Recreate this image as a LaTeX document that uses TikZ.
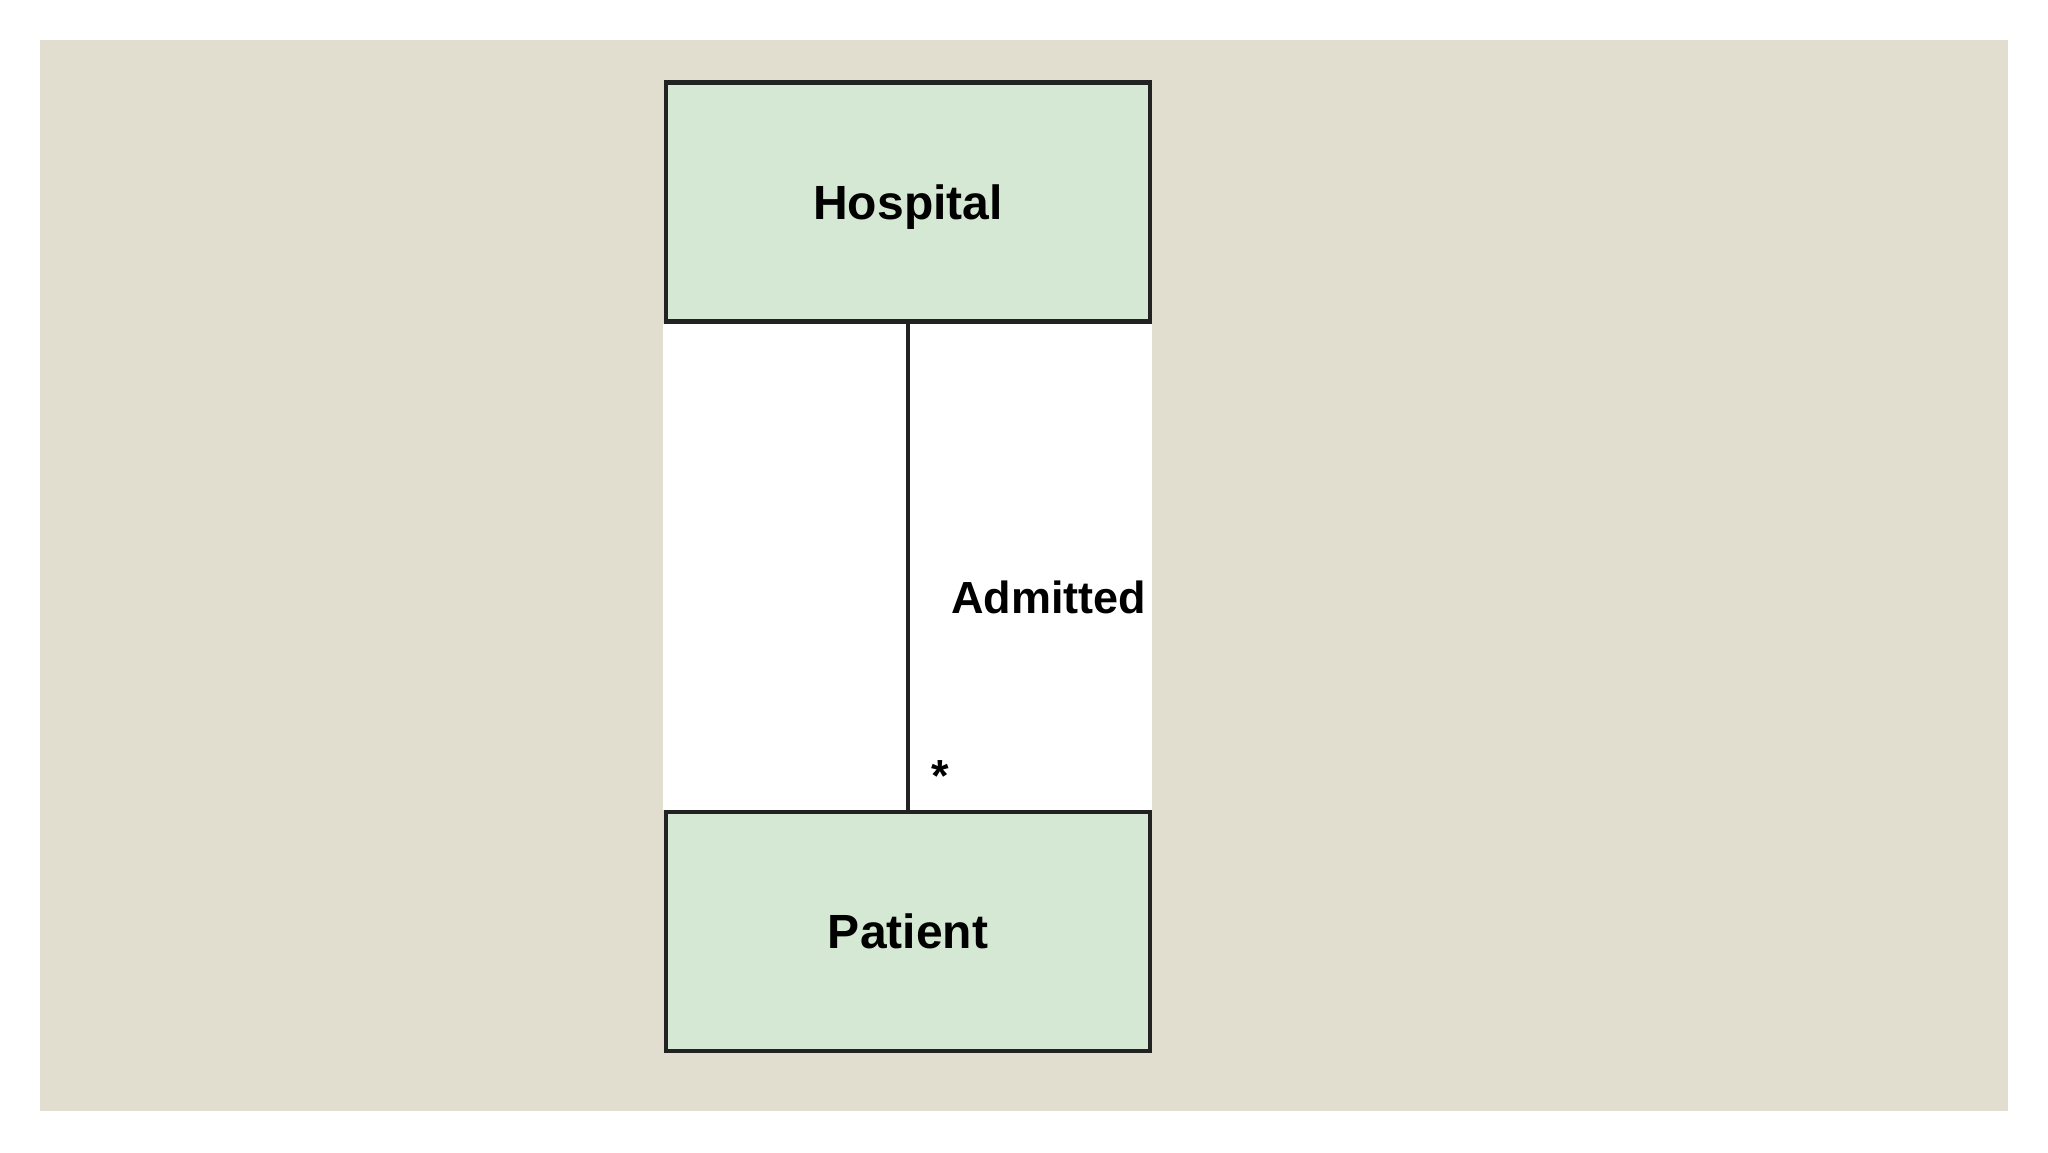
\documentclass[tikz,border=0pt]{standalone}
\usepackage{fontspec}
\setmainfont{Liberation Sans}
\usepackage{xcolor}
\usetikzlibrary{
    arrows.meta,
    positioning
}

\definecolor{canvasbeige}{HTML}{E1DDCF}
\definecolor{classgreen}{HTML}{D5E8D4}
\definecolor{edgedark}{HTML}{222222}

\begin{document}
\begin{tikzpicture}[
    x=0.5pt, y=-0.5pt,
    font=\bfseries,
    classbox/.style={
        rectangle,
        draw=edgedark,
        line width=2.4pt,
        align=center,
        text depth=0pt,
        minimum width=242pt,
        minimum height=119.5pt,
        fill=classgreen,
        font=\fontsize{24}{28}\selectfont\bfseries
    },
    assoc/.style={
        -,
        line width=2.2pt,
        draw=edgedark
    },
    rolelabel/.style={
        font=\fontsize{22.5}{26}\selectfont\bfseries,
        inner sep=0pt,
        text=black
    }
]

% =========================================================
% Canvas
% =========================================================
\useasboundingbox (0,0) rectangle (2048,1152);
\fill[white] (0,0) rectangle (2048,1152);
\fill[canvasbeige] (40,40) rectangle (2008,1111);
\fill[white] (663,324) rectangle (1152,810);

% =========================================================
% Classes
% =========================================================
\node[classbox] (hospital) at (908,202) {Hospital};

\node[classbox] (patient) at (908,931.5) {Patient};

% =========================================================
% Association
% =========================================================
\draw[assoc] (hospital.south) --
    node[pos=0.597, anchor=base west, rolelabel, xshift=20.5pt] {Admitted}
    node[pos=1, anchor=base west, rolelabel, xshift=10.5pt, yshift=9pt] {*}
    (patient.north);

\end{tikzpicture}
\end{document}
